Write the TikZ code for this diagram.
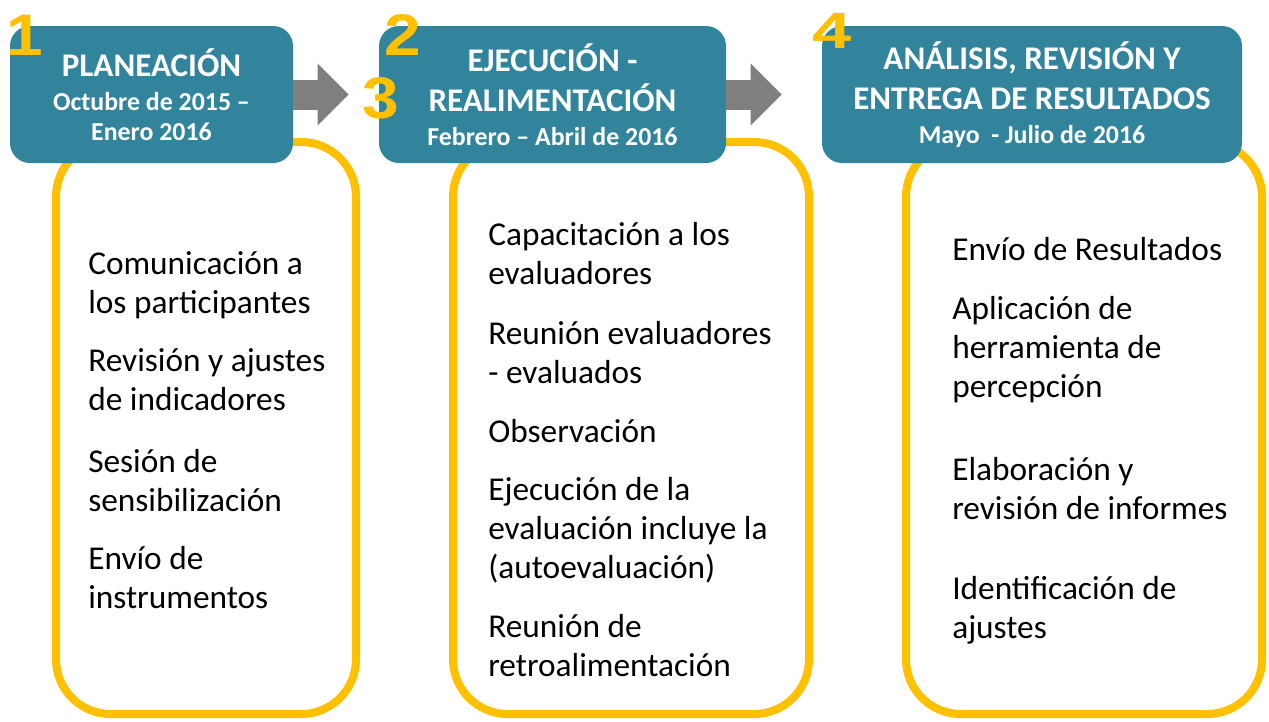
\documentclass[tikz,border=0pt]{standalone}
\usepackage{fontspec}
\setmainfont{Carlito}
\newfontfamily\numfont{Liberation Sans}
\usetikzlibrary{arrows.meta}
\definecolor{HeadTeal}{RGB}{49, 132, 155}
\definecolor{Gold}{RGB}{255, 192, 0}
\definecolor{ArrowGray}{RGB}{127, 127, 127}

\begin{document}
\begin{tikzpicture}[x=0.75pt, y=-0.75pt]
        \tikzstyle{stage} = [rectangle, rounded corners=41pt, draw=Gold, line width=6pt, fill=white, minimum height=429pt]
        \tikzstyle{header} = [rectangle, rounded corners=15pt, fill=HeadTeal, text=white, align=center, minimum height=102.75pt, font=\bfseries\fontsize{19.4}{22.5}\selectfont]
        \tikzstyle{item} = [anchor=base west, inner sep=0pt, align=left, font=\fontsize{25}{29.25}\selectfont]
        \tikzstyle{num} = [anchor=base, inner sep=0pt, text=Gold, font=\numfont\bfseries\fontsize{44}{44}\selectfont]
        \tikzstyle{arrow} = [ArrowGray, line width=22.5pt, -{Triangle[length=23.25pt, width=46.5pt, line width=0pt]}]
        \newcommand{\hdtitle}{\fontsize{24.8}{22.5}\selectfont}

        \useasboundingbox (0,0) rectangle (1269,721);

        % Stage boxes
        \node (planbox) [stage, minimum width=225pt] at (206,428) {};
        \node (execbox) [stage, minimum width=267pt] at (631,428) {};
        \node (reportbox) [stage, minimum width=267pt] at (1084,428) {};

        % Headers
        \node (plan) [header, minimum width=212.25pt] at (151.5,94.5) {{\hdtitle PLANEACIÓN}\\[3pt] Octubre de 2015 –\\ Enero 2016};
        \node (exec) [header, minimum width=260.25pt] at (552.5,94.5) {{\hdtitle EJECUCIÓN -}\\[7.5pt] {\hdtitle REALIMENTACIÓN}\\[3pt] Febrero – Abril de 2016};
        \node (report) [header, minimum width=315pt] at (1032,94.5) {{\hdtitle ANÁLISIS, REVISIÓN Y}\\[7.5pt] {\hdtitle ENTREGA DE RESULTADOS}\\[3pt] Mayo\ \ - Julio de 2016};

        % Arrows
        \draw [arrow, shorten >=22.5pt] (plan) -- (exec);
        \draw [arrow, shorten >=30pt] (exec) -- (report);

        % Step numbers
        \node (one) [num] at (25,55) {\scalebox{1.12}[1]{1}};
        \node (two) [num] at (402.5,55) {\scalebox{1.12}[1]{2}};
        \node (three) [num] at (380.5,118) {\scalebox{1.12}[1]{3}};
        \node (four) [num] at (832.5,48) {\scalebox{1.2}[0.87]{4}};

        % Planning items (anchored at the last line)
        \node (comm) [item] at (88,313) {Comunicación a\\los participantes};
        \node (indic) [item] at (88,410) {Revisión y ajustes\\de indicadores};
        \node (sens) [item] at (88,511) {Sesión de\\sensibilización};
        \node (instr) [item] at (88,608) {Envío de\\instrumentos};

        % Execution items
        \node (capac) [item] at (488,284) {Capacitación a los\\evaluadores};
        \node (meeting) [item] at (488,383) {Reunión evaluadores\\- evaluados};
        \node (observ) [item] at (488,442) {Observación};
        \node (execeval) [item] at (488,578) {Ejecución de la\\evaluación incluye la\\(autoevaluación)};
        \node (feedback) [item] at (488,676) {Reunión de\\retroalimentación};

        % Report items
        \node (sendres) [item] at (952,260) {Envío de Resultados};
        \node (percep) [item] at (952,397) {Aplicación de\\herramienta de\\percepción};
        \node (reports) [item] at (952,519) {Elaboración y\\revisión de informes};
        \node (adjust) [item] at (952,638) {Identificación de\\ajustes};
    \end{tikzpicture}
\end{document}
